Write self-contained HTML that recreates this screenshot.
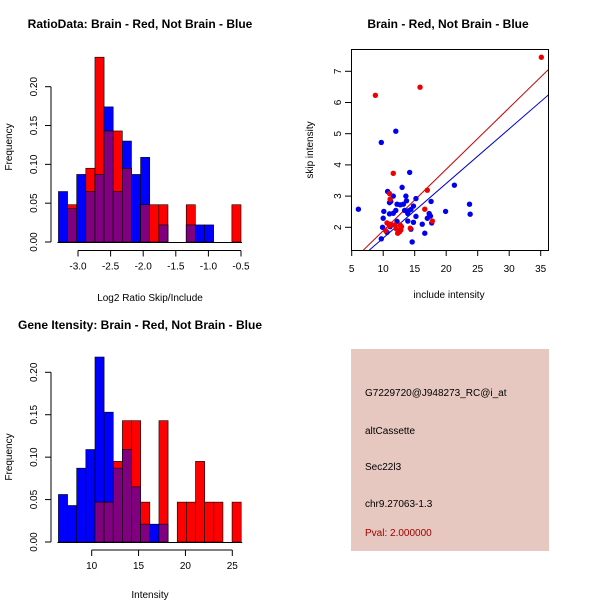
<!DOCTYPE html>
<html><head><meta charset="utf-8"><style>
body{margin:0;background:#fff;font-family:"Liberation Sans",sans-serif}
svg text{font-family:"Liberation Sans",sans-serif}
</style></head><body>
<svg id="s" width="600" height="600" viewBox="0 0 600 600">
<rect width="600" height="600" fill="#fff"/>
<text x="140" y="28" font-size="12" font-weight="bold" text-anchor="middle">RatioData: Brain - Red, Not Brain - Blue</text>
<text x="448" y="28" font-size="12" font-weight="bold" text-anchor="middle">Brain - Red, Not Brain - Blue</text>
<text x="140" y="329" font-size="12" font-weight="bold" text-anchor="middle">Gene Itensity: Brain - Red, Not Brain - Blue</text>
<text x="150" y="301" font-size="10" text-anchor="middle">Log2 Ratio Skip/Include</text>
<text x="150" y="598" font-size="10" text-anchor="middle">Intensity</text>
<text transform="translate(12,147) rotate(-90)" font-size="10" text-anchor="middle">Frequency</text>
<text transform="translate(12,457) rotate(-90)" font-size="10" text-anchor="middle">Frequency</text>
<text x="449" y="298" font-size="10" text-anchor="middle">include intensity</text>
<text transform="translate(313,150) rotate(-90)" font-size="10" text-anchor="middle">skip intensity</text>
<g>
<rect x="351" y="349" width="198" height="202" fill="#e6c8c0"/>
<text x="365" y="396" font-size="10">G7229720@J948273_RC@i_at</text>
<text x="365" y="434" font-size="10">altCassette</text>
<text x="365" y="470" font-size="10">Sec22l3</text>
<text x="365" y="507" font-size="10">chr9.27063-1.3</text>
<text x="365" y="536" font-size="10" fill="#a00000">Pval: 2.000000</text>
</g>
<g id="g"></g>
</svg>
<script>
const ratioBlue=[0.065,0.043,0.087,0.065,0.087,0.174,0.065,0.130,0.087,0.109,0,0.022,0,0,0.022,0.022,0.022,0,0,0];
const ratioRed=[0,0.048,0,0.095,0.238,0.143,0.143,0.095,0,0.048,0.048,0.048,0,0,0.048,0,0,0,0,0.048];
const ratioStart=-3.3, ratioWidth=0.14;
const ratioXTicks=[-3.0,-2.5,-2.0,-1.5,-1.0,-0.5];
const intBlue=[0.056,0.043,0.087,0.109,0.218,0.153,0.087,0.109,0.065,0.021,0.021,0.021,0,0,0,0,0,0,0,0];
const intRed=[0,0,0,0,0.047,0.047,0.095,0.143,0.143,0.047,0,0.143,0,0.047,0.047,0.095,0.047,0.047,0,0.047];
const intStart=6.45, intWidth=0.975;
const intXTicks=[10,15,20,25];
const freqTicks=[0,0.05,0.10,0.15,0.20];
const redX=[35.1,8.76,15.85,11.6,17.0,11.0,16.6,11.1,17.8,10.6,11.2,10.4,12.1,12.7,12.9,12.6,12.3,14.3,11.8,12.8,11.0];
const redY=[7.45,6.23,6.49,3.73,3.19,3.08,2.58,2.9,2.2,2.14,2.1,1.89,1.95,2.07,2.02,1.86,1.81,1.97,2.07,1.91,2.05];
const blueX=[6.06,9.7,12.0,14.2,10.7,13.0,13.6,11.0,11.2,12.2,12.7,13.2,13.7,15.2,17.6,21.3,23.7,23.8,19.9,10.1,11.0,11.6,12.0,13.4,14.4,14.8,13.9,15.2,17.3,17.5,17.0,16.2,17.7,14.8,13.9,12.2,10.0,9.9,11.1,14.4,16.6,9.7,14.6,10.6,14.0,11.6];
const blueY=[2.58,4.72,5.08,3.76,3.15,3.28,3.0,2.79,2.83,2.74,2.72,2.74,2.85,2.92,2.83,3.35,2.74,2.42,2.51,2.51,2.43,2.45,2.54,2.54,2.57,2.68,2.44,2.35,2.44,2.36,2.29,2.10,2.14,2.16,2.2,2.19,2.29,2.0,2.02,1.94,1.81,1.63,1.53,1.84,2.53,3.0];
const redFit=[-0.08,0.197], blueFit=[-0.095,0.175];
const sXTicks=[5,10,15,20,25,30,35];
const sYTicks=[2,3,4,5,6,7];

const NS='http://www.w3.org/2000/svg', G=document.getElementById('g');
function mk(t,a,p){const e=document.createElementNS(NS,t);for(const k in a)e.setAttribute(k,a[k]);(p||G).appendChild(e);return e;}

function hist(blue,red,start,w,xT,x0v,x1v,px0,px1,y0,y20,axisY,name,fmt){
  const sx=v=>px0+(v-x0v)/(x1v-x0v)*(px1-px0);
  const sy=v=>y0-(v/0.2)*(y0-y20);
  for(let i=0;i<blue.length;i++){
    const a=sx(start+i*w), b=sx(start+(i+1)*w);
    const mn=Math.min(blue[i],red[i]);
    if(blue[i]>0){const r=mk('rect',{x:a,y:sy(blue[i]),width:b-a,height:sy(0)-sy(blue[i]),fill:'#0000ff',stroke:'#000','stroke-width':0.6});
      
      }
    if(red[i]>0){const r=mk('rect',{x:a,y:sy(red[i]),width:b-a,height:sy(0)-sy(red[i]),fill:'#ff0000',stroke:'#000','stroke-width':0.6});
      
      }
    if(mn>0){const r=mk('rect',{x:a,y:sy(mn),width:b-a,height:sy(0)-sy(mn),fill:'#800080',stroke:'#000','stroke-width':0.6});
      
      }
  }
  mk('line',{x1:sx(start)-1,x2:sx(start+blue.length*w)+1,y1:sy(0)+0.5,y2:sy(0)+0.5,stroke:'#000'});
  mk('line',{x1:51,x2:51,y1:sy(0),y2:sy(0.2),stroke:'#000'});
  freqTicks.forEach(t=>{mk('line',{x1:45,x2:51,y1:sy(t),y2:sy(t),stroke:'#000'});
    const tx=mk('text',{transform:`translate(37,${sy(t)}) rotate(-90)`,'font-size':10,'text-anchor':'middle'});tx.textContent=t.toFixed(2);
    
    });
  mk('line',{x1:sx(xT[0]),x2:sx(xT[xT.length-1]),y1:axisY,y2:axisY,stroke:'#000'});
  xT.forEach(t=>{mk('line',{x1:sx(t),x2:sx(t),y1:axisY,y2:axisY+6,stroke:'#000'});
    const tx=mk('text',{x:sx(t),y:axisY+19,'font-size':10,'text-anchor':'middle'});tx.textContent=fmt(t);
    
    });
}
hist(ratioBlue,ratioRed,ratioStart,ratioWidth,ratioXTicks,-3.0,-0.5,78,241,242,86.7,250.5,'ratio-hist',t=>t.toFixed(1));
hist(intBlue,intRed,intStart,intWidth,intXTicks,10,25,91.7,232.3,542,372.3,550,'intensity-hist',t=>String(t));

const sx=v=>351.7+(v-5)*6.3, sy=v=>227.3-(v-2)*31.2;
mk('rect',{x:351.5,y:49.5,width:197,height:201,fill:'none',stroke:'#000'});
const cp=mk('clipPath',{id:'cp'});mk('rect',{x:352,y:50,width:196,height:200},cp);
[[blueFit,'#0000cc','blue-fit-line'],[redFit,'#cc0000','red-fit-line']].forEach(([f,c,n])=>{
  const xa=5,xb=37;const l=mk('line',{x1:sx(xa),y1:sy(f[0]+f[1]*xa),x2:sx(xb),y2:sy(f[0]+f[1]*xb),stroke:c,'stroke-width':1,'clip-path':'url(#cp)'});
  
  });
blueX.forEach((x,i)=>{const c=mk('circle',{cx:sx(x),cy:sy(blueY[i]),r:2.7,fill:'#0000ee'});
  
  });
redX.forEach((x,i)=>{const c=mk('circle',{cx:sx(x),cy:sy(redY[i]),r:2.7,fill:'#ee0000'});
  
  });
sXTicks.forEach(t=>{mk('line',{x1:sx(t),x2:sx(t),y1:250,y2:256,stroke:'#000'});
  const tx=mk('text',{x:sx(t),y:272,'font-size':10,'text-anchor':'middle'});tx.textContent=t;
  
  });
sYTicks.forEach(t=>{mk('line',{x1:345,x2:351,y1:sy(t),y2:sy(t),stroke:'#000'});
  const tx=mk('text',{transform:`translate(341,${sy(t)}) rotate(-90)`,'font-size':10,'text-anchor':'middle'});tx.textContent=t;
  
  });
</script>
</body></html>
